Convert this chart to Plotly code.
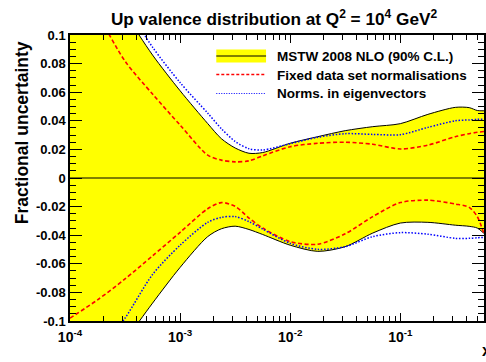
import plotly.graph_objects as go

# Momentum fraction x (log-spaced nodes)
x = [1.0e-4, 1.78e-4, 3.16e-4, 5.62e-4, 1.0e-3, 1.78e-3, 2.37e-3, 3.16e-3,
     4.22e-3, 5.62e-3, 1.0e-2, 1.78e-2, 3.16e-2, 5.62e-2, 0.1, 0.178,
     0.316, 0.422, 0.5, 0.575]

# MSTW 2008 NLO 90% C.L. band (upper / lower edges)
band_up = [0.17, 0.144, 0.115, 0.086, 0.061, 0.0381, 0.0275, 0.021,
           0.0173, 0.0178, 0.0243, 0.0289, 0.0331, 0.0359, 0.038, 0.0445,
           0.0494, 0.0492, 0.0472, 0.047]
band_lo = [-0.168, -0.141, -0.114, -0.0875, -0.0625, -0.041, -0.0355, -0.0337,
           -0.036, -0.0395, -0.047, -0.0513, -0.048, -0.0385, -0.0315, -0.031,
           -0.033, -0.0338, -0.035, -0.0387]

# Fixed data set normalisations
fixed_up = [0.148, 0.1148, 0.0817, 0.0587, 0.037, 0.016, 0.0125, 0.0113,
            0.012, 0.0155, 0.0219, 0.0243, 0.025, 0.0236, 0.0203, 0.023,
            0.0289, 0.031, 0.032, 0.0325]
fixed_lo = [-0.098, -0.0852, -0.0706, -0.0544, -0.038, -0.0215, -0.0172, -0.0198,
            -0.028, -0.035, -0.0445, -0.0463, -0.039, -0.027, -0.0172, -0.0155,
            -0.0182, -0.0205, -0.027, -0.039]

# Normalisations included in the eigenvectors
eig_up = [0.18, 0.152, 0.122, 0.0915, 0.0667, 0.0454, 0.0345, 0.0256,
          0.0205, 0.0196, 0.024, 0.0285, 0.031, 0.0305, 0.0303, 0.0354,
          0.040, 0.0406, 0.041, 0.041]
eig_lo = [-0.148, -0.123, -0.098, -0.0675, -0.047, -0.031, -0.0275, -0.027,
          -0.0305, -0.0357, -0.0457, -0.0499, -0.048, -0.041, -0.0382, -0.0393,
          -0.0422, -0.0422, -0.0418, -0.0415]

y_ticks = [0.1, 0.08, 0.06, 0.04, 0.02, 0, -0.02, -0.04, -0.06, -0.08, -0.1]
y_text = ["0.1", "0.08", "0.06", "0.04", "0.02", "0",
          "-0.02", "-0.04", "-0.06", "-0.08", "-0.1"]
x_ticks = [1e-4, 1e-3, 1e-2, 1e-1]
x_text = ["10<sup>-4</sup>", "10<sup>-3</sup>", "10<sup>-2</sup>", "10<sup>-1</sup>"]

legend_labels = ["MSTW 2008 NLO (90% C.L.)", "Fixed data set normalisations",
                 "Norms. in eigenvectors"]

FONT = "Liberation Sans, Arial, sans-serif"
W, H = 486, 362
L, R, T, B = 70, 0, 35, 41
PW, PH = W - L - R, H - T - B


def px(xp):
    return (xp - L) / PW


def py(yp):
    return (H - B - yp) / PH


fig = go.Figure()

fig.add_trace(go.Scatter(x=x, y=band_lo, mode="lines",
                         line=dict(color="black", width=1, shape="spline", smoothing=0.8),
                         showlegend=False, hoverinfo="skip"))
fig.add_trace(go.Scatter(x=x, y=band_up, mode="lines", fill="tonexty",
                         fillcolor="#ffff00",
                         line=dict(color="black", width=1, shape="spline", smoothing=0.8),
                         showlegend=False, hoverinfo="skip"))
for ys in (fixed_up, fixed_lo):
    fig.add_trace(go.Scatter(x=x, y=ys, mode="lines",
                             line=dict(color="#ff0000", width=1.6, dash="4px,2.5px",
                                       shape="spline", smoothing=0.8),
                             showlegend=False, hoverinfo="skip"))
for ys in (eig_up, eig_lo):
    fig.add_trace(go.Scatter(x=x, y=ys, mode="lines",
                             line=dict(color="#0000ff", width=1.5, dash="1.5px,1.7px",
                                       shape="spline", smoothing=0.8),
                             showlegend=False, hoverinfo="skip"))

shapes = [
    # zero reference line
    dict(type="line", xref="paper", yref="y", x0=0, x1=1, y0=0, y1=0,
         line=dict(color="black", width=1), layer="above"),
    # legend swatches
    dict(type="rect", xref="paper", yref="paper", x0=px(217), x1=px(267),
         y0=py(62.5), y1=py(49.5), fillcolor="#ffff00", line=dict(width=0),
         layer="above"),
    dict(type="line", xref="paper", yref="paper", x0=px(217), x1=px(267),
         y0=py(56), y1=py(56), line=dict(color="black", width=1), layer="above"),
    dict(type="line", xref="paper", yref="paper", x0=px(217), x1=px(267),
         y0=py(74.5), y1=py(74.5),
         line=dict(color="#ff0000", width=1.3, dash="3px,2px"), layer="above"),
    dict(type="line", xref="paper", yref="paper", x0=px(217), x1=px(267),
         y0=py(93.5), y1=py(93.5),
         line=dict(color="#0000ff", width=1.2, dash="1px,1.5px"), layer="above"),
]

annotations = [
    dict(text="Fractional uncertainty", textangle=-90, xref="paper", yref="paper",
         x=px(22), y=py(133), xanchor="center", yanchor="middle", showarrow=False,
         font=dict(family=FONT, size=17.5, color="black", weight="bold")),
    # x-axis title, sitting at the far right edge of the canvas
    dict(text="x", xref="paper", yref="paper", x=px(482), y=py(350),
         xanchor="left", yanchor="middle", showarrow=False,
         font=dict(family=FONT, size=16, color="black", weight="bold")),
]
for i, lab in enumerate(legend_labels):
    annotations.append(dict(text=lab, xref="paper", yref="paper", x=px(276),
                            y=py([56, 75, 93.5][i]), xanchor="left", yanchor="middle",
                            showarrow=False,
                            font=dict(family=FONT, size=13.5, color="black",
                                      weight="bold")))

fig.update_layout(
    width=W, height=H,
    margin=dict(l=L, r=R, t=T, b=B),
    paper_bgcolor="white", plot_bgcolor="white",
    title=dict(text="Up valence distribution at Q<sup>2</sup> = 10<sup>4</sup> GeV<sup>2</sup>",
               x=274 / W, xref="container", xanchor="center",
               y=1 - 19 / H, yref="container", yanchor="middle",
               font=dict(family=FONT, size=17.2, color="black", weight="bold")),
    shapes=shapes, annotations=annotations,
    showlegend=False,
)

fig.update_xaxes(type="log", range=[-4, -0.24], showgrid=False, zeroline=False,
                 showline=True, linecolor="black", linewidth=1.5, mirror="ticks",
                 ticks="inside", ticklen=8, tickwidth=1, tickcolor="black",
                 tickmode="array", tickvals=x_ticks, ticktext=x_text,
                 ticklabelstandoff=2,
                 tickfont=dict(family=FONT, size=14, color="black", weight="bold"),
                 minor=dict(ticks="inside", ticklen=5, tickwidth=1, tickcolor="black",
                            dtick="D1", showgrid=False),
                 layer="above traces")
fig.update_yaxes(range=[-0.1, 0.1], showgrid=False, zeroline=False,
                 showline=True, linecolor="black", linewidth=1.5, mirror="ticks",
                 ticks="inside", ticklen=12, tickwidth=1, tickcolor="black",
                 tickmode="array", tickvals=y_ticks, ticktext=y_text,
                 tickfont=dict(family=FONT, size=13, color="black", weight="bold"),
                 minor=dict(ticks="inside", ticklen=6, tickwidth=1, tickcolor="black",
                            dtick=0.005, tick0=0, showgrid=False),
                 layer="above traces")

fig.write_html("out.html")
